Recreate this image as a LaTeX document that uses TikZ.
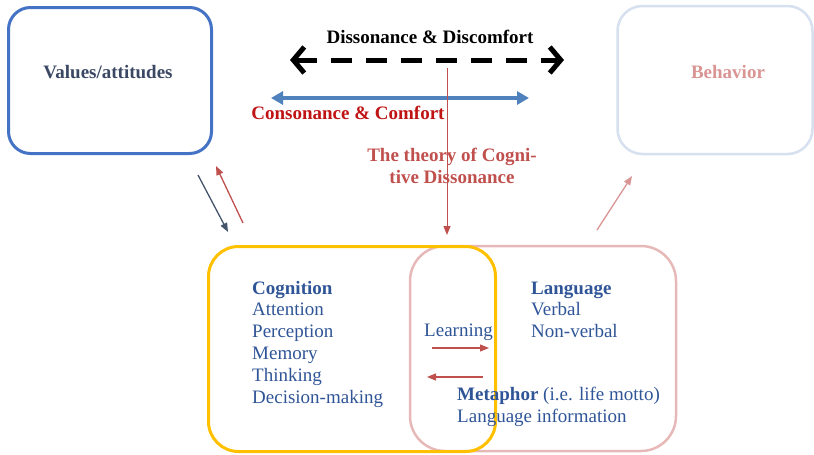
\documentclass[tikz,border=0pt]{standalone}
\usepackage{fontspec}
\setmainfont{Liberation Serif}
\usetikzlibrary{arrows.meta,positioning}

\definecolor{valblue}{RGB}{68,114,196}
\definecolor{valtext}{RGB}{59,72,100}
\definecolor{behblue}{RGB}{214,224,238}
\definecolor{behred}{RGB}{217,149,148}
\definecolor{consblue}{RGB}{79,129,189}
\definecolor{consred}{RGB}{192,20,20}
\definecolor{theored}{RGB}{192,80,77}
\definecolor{cogyellow}{RGB}{255,192,0}
\definecolor{langpink}{RGB}{230,185,184}
\definecolor{listblue}{RGB}{47,85,151}
\definecolor{arrdark}{RGB}{68,84,106}

\tikzset{
  rbox/.style={draw, inner sep=0pt},
  list/.style={anchor=base west, align=left, inner sep=0pt, text=listblue},
  thin/.style={line width=1.3pt, -{Triangle[length=9pt,width=7pt]}},
}

\begin{document}
\begin{tikzpicture}[x=1pt, y=-1pt, font=\fontsize{19}{21.8}\selectfont]
\useasboundingbox (0,0) rectangle (814,455);

\node (vals) [rbox, valblue, line width=3pt, rounded corners=22pt, minimum width=203pt, minimum height=146pt] at (110,80.5) {};
\node (valtxt) [text=valtext, font=\fontsize{19}{21.8}\selectfont\bfseries] at (108,72) {Values/attitudes};

\node (beh) [rbox, behblue, line width=2.5pt, rounded corners=25pt, minimum width=195pt, minimum height=148pt] at (715,80) {};
\node (behtxt) [text=behred, font=\fontsize{19}{21.8}\selectfont\bfseries] at (728,72) {Behavior};

\node (diss) [font=\fontsize{19}{21.8}\selectfont\bfseries] at (430,37) {Dissonance \& Discomfort};
\coordinate (dl) at (290,60);
\coordinate (dr) at (564,60);
\draw [line width=5pt, dash pattern=on 21pt off 14pt, {Straight Barb[length=11pt,width=26pt]}-{Straight Barb[length=11pt,width=26pt]}] (dl) -- (dr);

\coordinate (cl) at (271,98);
\coordinate (cr) at (529,98);
\draw [consblue, line width=4pt, {Triangle[length=12pt,width=13pt]}-{Triangle[length=12pt,width=13pt]}] (cl) -- (cr);
\node (cons) [text=consred, font=\fontsize{19}{21.8}\selectfont\bfseries] at (348,113) {Consonance \& Comfort};

\node (theory) [align=center, text=theored, font=\fontsize{19}{21.8}\selectfont\bfseries] at (452,166) {The theory of Cogni-\\tive Dissonance};
\coordinate (tt) at (447,68);
\coordinate (tb) at (447,235);
\draw [theored, thin, line width=1pt] (tt) -- (tb);

\node (lang) [rbox, langpink, line width=2.5pt, rounded corners=35pt, minimum width=266pt, minimum height=205pt] at (543,348.5) {};
\node (cog) [rbox, cogyellow, line width=3pt, rounded corners=30pt, minimum width=287pt, minimum height=205pt] at (352,349) {};

\node (cogtxt) [list] at (252,403) {\textbf{Cognition}\\Attention\\Perception\\Memory\\Thinking\\Decision-making};
\node (langtxt) [list] at (531,337.6) {\textbf{Language}\\Verbal\\Non-verbal};
\node (learn) [list] at (424,336) {Learning};
\node (meta) [list] at (457,422) {\textbf{Metaphor} (i.e. life motto)\\Language information};

\coordinate (l1) at (432,348);
\coordinate (l2) at (489,348);
\draw [theored, thin] (l1) -- (l2);
\coordinate (l3) at (483,377);
\coordinate (l4) at (427,377);
\draw [theored, thin] (l3) -- (l4);

\coordinate (a1) at (198,175);
\coordinate (a2) at (228,232);
\draw [arrdark, thin] (a1) -- (a2);
\coordinate (a3) at (243,223);
\coordinate (a4) at (216,166);
\draw [theored, thin] (a3) -- (a4);
\coordinate (b1) at (597,230);
\coordinate (b2) at (632,176);
\draw [behred, thin] (b1) -- (b2);

\end{tikzpicture}
\end{document}
